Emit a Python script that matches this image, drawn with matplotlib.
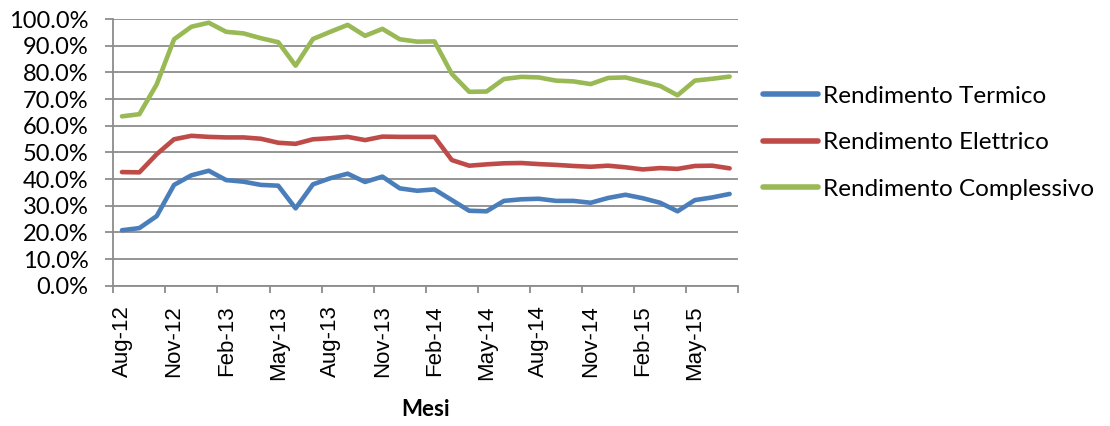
import matplotlib
matplotlib.use("Agg")
import matplotlib.pyplot as plt
from matplotlib.ticker import FuncFormatter, FixedLocator

# Monthly efficiency values (percent), Aug-2012 .. Jul-2015
months = ["Aug-12", "Sep-12", "Oct-12", "Nov-12", "Dec-12", "Jan-13",
          "Feb-13", "Mar-13", "Apr-13", "May-13", "Jun-13", "Jul-13",
          "Aug-13", "Sep-13", "Oct-13", "Nov-13", "Dec-13", "Jan-14",
          "Feb-14", "Mar-14", "Apr-14", "May-14", "Jun-14", "Jul-14",
          "Aug-14", "Sep-14", "Oct-14", "Nov-14", "Dec-14", "Jan-15",
          "Feb-15", "Mar-15", "Apr-15", "May-15", "Jun-15", "Jul-15"]

termico = [20.8, 21.6, 26.1, 37.8, 41.4, 43.1, 39.6, 39.0, 37.8, 37.5, 29.0, 38.0,
           40.3, 42.0, 38.9, 40.9, 36.5, 35.6, 36.1, 32.1, 28.1, 27.9, 31.8, 32.4,
           32.6, 31.8, 31.8, 31.1, 32.9, 34.1, 32.8, 31.1, 27.9, 32.1, 33.1, 34.4]

elettrico = [42.6, 42.5, 49.3, 54.9, 56.2, 55.8, 55.6, 55.6, 55.1, 53.6, 53.2, 54.9,
             55.3, 55.8, 54.6, 55.9, 55.8, 55.8, 55.8, 47.1, 45.0, 45.5, 45.9, 46.0,
             45.6, 45.3, 44.9, 44.6, 45.0, 44.4, 43.6, 44.1, 43.8, 44.9, 45.0, 44.0]

complessivo = [63.5, 64.3, 75.5, 92.4, 97.1, 98.6, 95.2, 94.6, 92.8, 91.3, 82.5, 92.5,
               95.2, 97.8, 93.7, 96.3, 92.4, 91.5, 91.6, 79.4, 72.7, 72.8, 77.5, 78.3,
               78.1, 76.9, 76.6, 75.6, 77.9, 78.1, 76.5, 74.9, 71.4, 76.9, 77.6, 78.4]

series_names = ["Rendimento Termico", "Rendimento Elettrico", "Rendimento Complessivo"]
series_colors = ["#4a7ebb", "#be4b48", "#98b954"]
yticks = [0, 10, 20, 30, 40, 50, 60, 70, 80, 90, 100]

FONT = ["Lato", "DejaVu Sans"]
plt.rcParams["font.family"] = FONT

fig = plt.figure(figsize=(11.10, 4.26), dpi=100)
ax = fig.add_axes([113.3 / 1110, 1 - 285.7 / 426, 625 / 1110, 266.7 / 426])

x = list(range(len(months)))
for vals, name, col in zip([termico, elettrico, complessivo], series_names, series_colors):
    ax.plot(x, vals, color=col, lw=3.3, label=name, solid_joinstyle="round",
            solid_capstyle="round", zorder=3)

ax.set_xlim(-0.5, len(months) - 0.5)
ax.set_ylim(0, 100)

grid_col = "#8c8c8c"
ax.set_yticks(yticks)
ax.yaxis.set_major_formatter(FuncFormatter(lambda v, p: f"{v:.1f}%"))
ax.grid(axis="y", color=grid_col, lw=1.3, zorder=1)
ax.set_axisbelow(True)

# category boundaries every three months as tick marks, labels at month centres
ax.xaxis.set_major_locator(FixedLocator([i - 0.5 for i in range(0, len(months) + 1, 3)]))
ax.xaxis.set_major_formatter(FuncFormatter(lambda v, p: ""))
ax.xaxis.set_minor_locator(FixedLocator(list(range(0, len(months), 3))))
ax.set_xticklabels([months[i] for i in range(0, len(months), 3)], minor=True,
                   rotation=90, fontsize=16,
                   family=["Liberation Sans", "DejaVu Sans"])
ax.tick_params(axis="x", which="minor", length=0, pad=14)
ax.tick_params(axis="x", which="major", length=5, width=1.3, color=grid_col)
ax.tick_params(axis="y", length=6, width=1.3, color=grid_col, labelsize=17, pad=12)

for side in ["top", "right"]:
    ax.spines[side].set_visible(False)
for side in ["left", "bottom"]:
    ax.spines[side].set_color(grid_col)
    ax.spines[side].set_linewidth(1.3)

ax.set_xlabel("Mesi", fontsize=16, fontweight="bold", labelpad=14)

leg = fig.legend(loc="upper left", bbox_to_anchor=(753 / 1110, 1 - 76 / 426),
                 frameon=False, fontsize=17.5, handlelength=2.26, handletextpad=0.2,
                 labelspacing=1.05, borderaxespad=0)
for h in leg.get_lines():
    h.set_linewidth(4)

fig.savefig("out.png", dpi=100)
